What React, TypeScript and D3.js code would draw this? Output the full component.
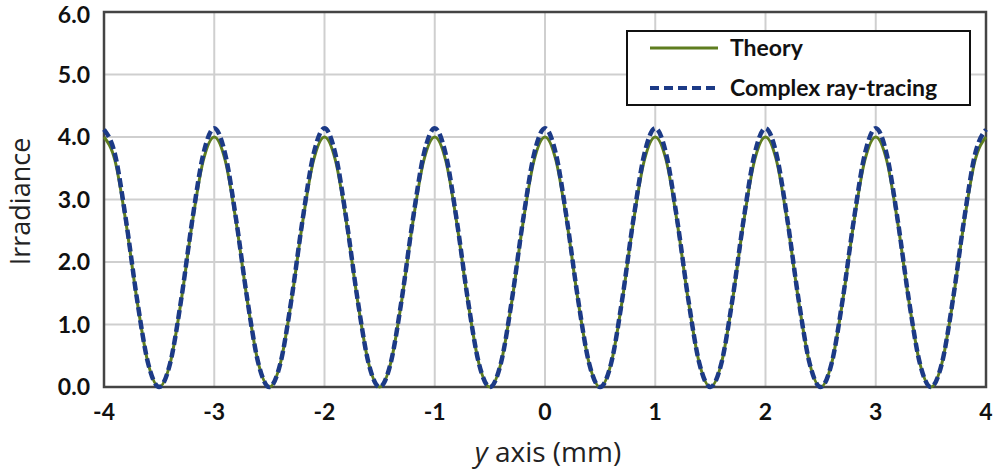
import { useEffect, useRef } from 'react';
import * as d3 from 'd3';

// y positions (mm), sampled every 0.1 mm from -4 to 4
const yAxisMm = d3.range(81).map((i) => Math.round((-4 + i * 0.1) * 10) / 10);

const theory = [
  4.00, 3.62, 2.62, 1.38, 0.38, 0.00, 0.38, 1.38, 2.62, 3.62,
  4.00, 3.62, 2.62, 1.38, 0.38, 0.00, 0.38, 1.38, 2.62, 3.62,
  4.00, 3.62, 2.62, 1.38, 0.38, 0.00, 0.38, 1.38, 2.62, 3.62,
  4.00, 3.62, 2.62, 1.38, 0.38, 0.00, 0.38, 1.38, 2.62, 3.62,
  4.00, 3.62, 2.62, 1.38, 0.38, 0.00, 0.38, 1.38, 2.62, 3.62,
  4.00, 3.62, 2.62, 1.38, 0.38, 0.00, 0.38, 1.38, 2.62, 3.62,
  4.00, 3.62, 2.62, 1.38, 0.38, 0.00, 0.38, 1.38, 2.62, 3.62,
  4.00, 3.62, 2.62, 1.38, 0.38, 0.00, 0.38, 1.38, 2.62, 3.62,
  4.00,
];

const rayTracing = [
  4.12, 3.72, 2.66, 1.40, 0.38, 0.00, 0.38, 1.40, 2.66, 3.72,
  4.14, 3.72, 2.66, 1.40, 0.38, 0.00, 0.38, 1.40, 2.66, 3.72,
  4.14, 3.72, 2.66, 1.40, 0.38, 0.00, 0.38, 1.40, 2.66, 3.72,
  4.14, 3.72, 2.66, 1.40, 0.38, 0.00, 0.38, 1.40, 2.66, 3.72,
  4.14, 3.72, 2.66, 1.40, 0.38, 0.00, 0.38, 1.40, 2.66, 3.72,
  4.14, 3.72, 2.66, 1.40, 0.38, 0.00, 0.38, 1.40, 2.66, 3.72,
  4.14, 3.72, 2.66, 1.40, 0.38, 0.00, 0.38, 1.40, 2.66, 3.72,
  4.14, 3.72, 2.66, 1.40, 0.38, 0.00, 0.38, 1.40, 2.66, 3.72,
  4.12,
];

const xTicks = [-4, -3, -2, -1, 0, 1, 2, 3, 4];
const yTicks = [0, 1, 2, 3, 4, 5, 6];
const seriesNames = ['Theory', 'Complex ray-tracing'];

const App = () => {
  const svgRef = useRef<SVGSVGElement>(null);

  useEffect(() => {
    const W = 994;
    const H = 472;
    const margin = { top: 12, right: 8, bottom: 85, left: 104 };
    const width = W - margin.left - margin.right;
    const height = H - margin.top - margin.bottom;

    d3.select(svgRef.current).selectAll('*').remove();

    const svg = d3.select(svgRef.current)
      .attr('width', W)
      .attr('height', H)
      .style('position', 'absolute')
      .style('left', '0px')
      .style('top', '0px')
      .style('font-family', 'Lato, "Open Sans", sans-serif');

    const g = svg.append('g')
      .attr('transform', `translate(${margin.left},${margin.top})`);

    const x = d3.scaleLinear().domain([-4, 4]).range([0, width]);
    const y = d3.scaleLinear().domain([0, 6]).range([height, 0]);

    // grid
    g.selectAll('.vgrid')
      .data(xTicks)
      .enter()
      .append('line')
      .attr('x1', (d) => x(d)).attr('x2', (d) => x(d))
      .attr('y1', 0).attr('y2', height)
      .attr('stroke', '#cfcfcf')
      .attr('stroke-width', 2);

    g.selectAll('.hgrid')
      .data(yTicks)
      .enter()
      .append('line')
      .attr('x1', 0).attr('x2', width)
      .attr('y1', (d) => y(d)).attr('y2', (d) => y(d))
      .attr('stroke', '#cfcfcf')
      .attr('stroke-width', 2);

    // frame
    g.append('rect')
      .attr('width', width)
      .attr('height', height)
      .attr('fill', 'none')
      .attr('stroke', '#444')
      .attr('stroke-width', 2.5);

    // tick labels (top one nudged down so it stays inside the picture)
    g.selectAll('.ylab')
      .data(yTicks)
      .enter()
      .append('text')
      .attr('x', -14)
      .attr('y', (d) => y(d) + (d === 6 ? 3 : 0))
      .attr('dy', '0.36em')
      .attr('text-anchor', 'end')
      .style('font-size', '23px')
      .style('font-weight', 'bold')
      .attr('fill', '#111')
      .text((d) => d3.format('.1f')(d));

    g.selectAll('.xlab')
      .data(xTicks)
      .enter()
      .append('text')
      .attr('x', (d) => x(d))
      .attr('y', height + 33)
      .attr('text-anchor', 'middle')
      .style('font-size', '23px')
      .style('font-weight', 'bold')
      .attr('fill', '#111')
      .text((d) => String(d));

    // lines
    const line = d3.line<number>()
      .x((_, i) => x(yAxisMm[i]))
      .y((d) => y(d))
      .curve(d3.curveMonotoneX);

    g.append('path')
      .datum(theory)
      .attr('d', line)
      .attr('fill', 'none')
      .attr('stroke', '#5e7d1f')
      .attr('stroke-width', 3);

    g.append('path')
      .datum(rayTracing)
      .attr('d', line)
      .attr('fill', 'none')
      .attr('stroke', '#1c3a86')
      .attr('stroke-width', 4.5)
      .attr('stroke-dasharray', '9,4');

    // axis titles
    svg.append('text')
      .attr('transform', `translate(30,${margin.top + height / 2 + 2}) rotate(-90)`)
      .attr('text-anchor', 'middle')
      .style('font-size', '27px')
      .style('font-family', '"Open Sans", sans-serif')
      .attr('fill', '#222')
      .text('Irradiance');

    const xt = svg.append('text')
      .attr('x', 548)
      .attr('y', 462)
      .attr('text-anchor', 'middle')
      .style('font-size', '28px')
      .style('font-family', '"Open Sans", sans-serif')
      .attr('fill', '#222');
    xt.append('tspan').style('font-style', 'italic').text('y');
    xt.append('tspan').text(' axis (mm)');

    // legend
    const lg = svg.append('g').attr('transform', 'translate(627,31)');
    lg.append('rect')
      .attr('width', 343)
      .attr('height', 74)
      .attr('fill', '#fff')
      .attr('stroke', '#111')
      .attr('stroke-width', 2);

    const items = lg.selectAll('.item')
      .data(seriesNames)
      .enter()
      .append('g')
      .attr('transform', (_, i) => `translate(0,${17 + i * 40})`);

    items.append('line')
      .attr('x1', 23).attr('x2', 91)
      .attr('stroke', (_, i) => (i === 0 ? '#5e7d1f' : '#1c3a86'))
      .attr('stroke-width', (_, i) => (i === 0 ? 3 : 4))
      .attr('stroke-dasharray', (_, i) => (i === 0 ? null : '9,5'));

    items.append('text')
      .attr('x', 103)
      .attr('dy', '0.35em')
      .style('font-size', '23px')
      .style('font-weight', 'bold')
      .attr('fill', '#111')
      .text((d) => d);
  }, []);

  return <svg ref={svgRef}></svg>;
};

export default App;
